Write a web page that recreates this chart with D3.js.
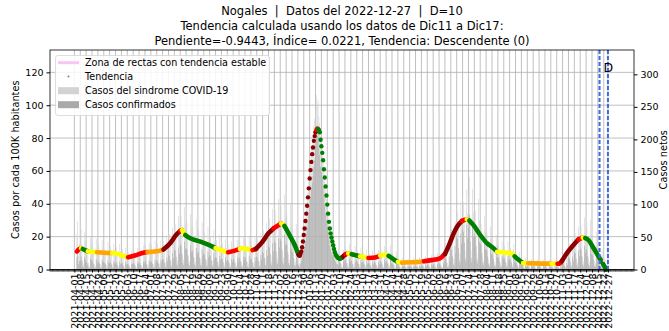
<!DOCTYPE html>
<html>
<head>
<meta charset="utf-8">
<script src="https://cdn.jsdelivr.net/npm/d3@7"></script>
<style>
  body { margin: 0; background: #fff; }
  text { font-family: "DejaVu Sans", sans-serif; fill: #000; white-space: pre; }
</style>
</head>
<body>
<svg id="chart" width="669" height="331"></svg>
<script>
// ---- Textos ----
const titulo = [
  "Nogales  |  Datos del 2022-12-27  |  D=10",
  "Tendencia calculada usando los datos de Dic11 a Dic17:",
  "Pendiente=-0.9443, Índice= 0.0221, Tendencia: Descendente (0)"
];
const etiquetaY = "Casos por cada 100K habitantes";
const etiquetaY2 = "Casos netos";
const leyenda = ["Zona de rectas con tendencia estable", "Tendencia", "Casos del sindrome COVID-19", "Casos confirmados"];

// ---- Ejes ----
const ticksY = [0, 20, 40, 60, 80, 100, 120];
const ticksY2 = [0, 50, 100, 150, 200, 250, 300];
const primerTick = "2021-04-01";
const ultimoTick = "2022-12-27";
const fechaFinCalculo = "2022-12-17";   // Dic17
const fechaDatos = "2022-12-27";
const inicioEje = "2021-03-03";
const finEje = "2023-01-27";

// ---- Casos diarios (casos netos), una fila por semana desde 2021-04-01 ----
const inicioBarras = "2021-04-01";
const casosSindrome = [
  0,0,0,55,74,21,40,  40,62,35,15,9,58,45,  38,30,22,10,6,52,41,  44,33,25,8,5,47,29,
  35,40,27,9,6,45,32,  38,31,29,7,5,42,30,  33,36,24,8,4,40,31,  30,35,22,6,5,39,28,
  28,31,20,7,4,33,25,  25,27,18,5,3,29,24,  27,30,21,6,4,33,26,  31,34,22,7,5,37,28,
  36,38,25,8,6,41,30,  39,37,27,9,6,44,31,  41,39,28,10,7,45,33,  46,44,30,12,8,52,38,
  57,55,38,15,10,64,45,  72,70,48,19,13,82,58,  86,83,57,22,15,96,70,  76,72,50,20,13,85,60,
  69,66,45,18,12,77,54,  64,61,42,17,11,72,50,  59,56,38,15,10,66,46,  54,51,35,14,9,61,42,
  47,45,31,12,8,53,37,  43,40,28,11,7,47,33,  39,37,26,10,7,44,30,  41,39,27,11,7,46,32,
  46,43,30,12,8,51,36,  47,44,31,12,8,52,37,  44,42,29,11,8,49,35,  50,47,33,13,9,56,39,
  65,61,43,17,11,72,51,  83,79,55,22,14,93,65,  96,91,64,25,17,108,76,  102,97,68,27,18,115,80,
  89,84,59,23,15,100,70,  63,60,42,16,11,70,49,  18,14,10,20,31,45,58,  55,64,80,95,108,120,135,
  150,168,185,192,205,220,232,  245,268,255,260,235,225,205,  196,184,170,152,138,122,108,  96,84,70,58,50,44,38,
  35,30,25,22,18,16,14,  28,24,20,8,5,30,22,  35,33,24,9,6,39,27,  32,30,22,8,5,36,25,
  30,29,21,8,5,34,24,  28,26,19,7,5,31,22,  26,25,18,7,4,29,21,  27,25,18,7,4,30,21,
  32,30,22,8,5,36,25,  33,31,22,9,6,37,26,  25,24,17,7,4,28,20,  17,15,11,4,3,18,13,
  16,15,10,4,3,17,12,  16,15,11,4,3,18,12,  17,16,11,4,3,19,13,  18,17,12,5,3,20,14,
  20,19,13,5,3,22,16,  22,21,15,6,4,25,17,  25,24,17,7,4,28,20,  40,38,27,10,7,45,31,
  66,62,44,17,11,74,52,  94,89,62,25,16,105,74,  110,104,73,29,19,123,86,  112,142,75,30,19,124,88,
  96,91,64,25,17,108,75,  74,70,49,19,13,82,58,  59,56,39,15,10,66,46,  48,45,32,12,8,53,37,
  39,37,26,10,7,44,31,  38,36,25,10,7,43,30,  35,33,23,9,6,39,27,  24,23,16,6,4,27,19,
  16,15,11,4,3,18,12,  14,13,9,4,2,16,11,  14,13,9,3,2,15,10,  13,13,9,3,2,15,10,
  13,12,9,3,2,15,10,  13,12,9,3,2,14,10,  13,13,9,3,2,15,10,  23,22,15,6,4,26,18,
  43,40,28,11,7,48,33,  59,56,39,15,10,66,46,  71,67,47,18,12,80,56,  69,65,46,18,12,77,54,
  52,49,34,13,9,58,41,  28,26,18,7,5,31,22,  9,7,5,2,1,3
];
const casosConfirmados = [
  0,0,0,18,25,8,13,  14,20,12,5,3,19,15,  12,10,7,3,2,17,14,  15,11,8,3,2,16,10,
  11,13,9,3,2,15,11,  12,10,9,2,2,14,10,  10,12,8,3,1,13,10,  9,11,7,2,2,12,9,
  9,10,6,2,1,11,8,  8,9,6,2,1,9,8,  9,10,7,2,1,11,8,  10,11,7,2,2,12,9,
  12,13,8,3,2,14,10,  13,12,9,3,2,15,10,  14,13,9,3,2,15,11,  16,15,10,4,3,18,13,
  22,21,14,6,4,25,17,  30,29,20,8,5,34,24,  38,37,25,10,7,43,31,  33,31,22,9,6,37,26,
  30,28,19,8,5,33,23,  27,26,18,7,5,31,21,  25,23,16,6,4,28,19,  22,21,14,6,4,25,17,
  19,18,12,5,3,21,15,  17,16,11,4,3,19,13,  15,14,10,4,3,17,12,  16,15,10,4,3,18,12,
  18,17,12,5,3,20,14,  19,18,12,5,3,21,15,  17,16,11,4,3,19,13,  20,19,13,5,4,22,16,
  27,25,18,7,5,30,21,  36,34,24,9,6,40,28,  43,41,29,11,8,48,34,  47,44,31,12,8,53,37,
  40,38,27,10,7,45,31,  27,26,18,7,5,30,21,  8,6,4,9,14,21,27,  28,34,44,55,64,73,84,
  98,112,126,133,144,158,168,  190,212,205,208,186,176,158,  150,140,128,112,100,87,76,  66,57,46,37,31,26,22,
  21,18,14,12,9,8,7,  13,11,9,3,2,14,10,  15,14,10,4,2,17,12,  14,13,9,3,2,15,10,
  13,12,9,3,2,14,10,  11,11,8,3,2,13,9,  10,10,7,3,2,12,8,  11,10,7,3,2,12,8,
  13,12,9,3,2,15,10,  13,12,9,3,2,15,10,  9,9,6,2,1,10,7,  6,5,4,1,1,6,4,
  5,5,3,1,1,6,4,  5,5,4,1,1,6,4,  6,5,4,1,1,6,4,  6,6,4,2,1,7,5,
  7,7,5,2,1,8,6,  8,8,5,2,1,9,6,  10,9,6,3,2,11,8,  18,17,12,4,3,20,14,
  32,30,21,8,5,36,25,  50,47,33,13,8,56,39,  62,58,41,16,11,69,48,  64,84,43,17,11,71,50,
  54,51,36,14,9,60,42,  40,38,26,10,7,44,31,  31,29,20,8,5,34,24,  24,22,16,6,4,26,18,
  19,18,13,5,3,21,15,  18,17,12,5,3,20,14,  16,15,11,4,3,18,12,  10,10,7,3,2,11,8,
  6,6,4,2,1,7,5,  5,5,3,1,1,6,4,  5,5,3,1,1,5,4,  5,4,3,1,1,5,3,
  5,4,3,1,1,5,3,  4,4,3,1,1,5,3,  5,4,3,1,1,5,4,  9,9,6,2,2,10,7,
  18,17,12,5,3,20,14,  26,25,17,7,4,29,20,  32,30,21,8,5,36,25,  31,29,21,8,5,35,24,
  23,22,15,6,4,26,18,  12,11,8,3,2,13,9,  4,3,2,1,0,1
];

// ---- Tendencia (casos por 100K): [fecha, valor, clase] ----
// clases: dr = ascendente fuerte, r = ascendente, o = estable alta, y = estable, g = descendente
const tendenciaAntes = [
  ["2021-04-04",11,"r"],["2021-04-07",12.5,"r"],["2021-04-09",13,"y"],["2021-04-11",12.5,"g"],
  ["2021-04-15",11.5,"g"],["2021-04-17",11,"y"],["2021-04-28",10.5,"o"],["2021-05-07",10.2,"o"],
  ["2021-05-16",10,"y"],["2021-05-23",9.5,"y"],["2021-05-31",8,"y"],["2021-06-04",7.5,"r"],
  ["2021-06-12",8.5,"r"],["2021-06-21",10,"r"],["2021-06-27",10.6,"o"],["2021-07-06",11,"o"],
  ["2021-07-12",11.5,"o"],["2021-07-16",12.2,"dr"],["2021-07-24",16,"dr"],["2021-07-31",21,"dr"],
  ["2021-08-05",23.5,"r"],["2021-08-07",24,"y"],["2021-08-11",21,"g"],["2021-08-17",19,"g"],
  ["2021-08-29",17,"g"],["2021-09-10",14.5,"g"],["2021-09-16",13,"y"],["2021-09-24",11.5,"y"],
  ["2021-10-01",10.5,"r"],["2021-10-09",11.5,"r"],["2021-10-15",12.6,"y"],["2021-10-18",12.9,"y"],
  ["2021-10-24",12.4,"y"],["2021-10-30",11.8,"r"],["2021-11-03",12.5,"dr"],["2021-11-11",17,"dr"],
  ["2021-11-18",22,"dr"],["2021-11-24",25,"r"],["2021-11-30",27,"r"],["2021-12-03",28,"y"],
  ["2021-12-07",26.5,"g"],["2021-12-14",20,"g"],["2021-12-20",14,"g"],["2021-12-23",10,"g"],
  ["2021-12-24",9,"dr"],["2021-12-25",8.5,"dr"]
];
// Ola de enero 2022, un punto por día
const tendenciaPico = [
  ["2021-12-25",8.5,"dr"],["2021-12-26",9.5,"dr"],["2021-12-27",11,"dr"],["2021-12-28",13.5,"dr"],
  ["2021-12-29",17,"dr"],["2021-12-30",21,"dr"],["2021-12-31",25,"dr"],["2022-01-01",29.5,"dr"],
  ["2022-01-02",34,"dr"],["2022-01-03",38.8,"dr"],["2022-01-04",43.9,"dr"],["2022-01-05",49.4,"dr"],
  ["2022-01-06",55.4,"dr"],["2022-01-07",60.5,"dr"],["2022-01-08",65.5,"dr"],["2022-01-09",70.2,"dr"],
  ["2022-01-10",74.3,"dr"],["2022-01-11",78.3,"dr"],["2022-01-12",81.2,"dr"],["2022-01-13",83.5,"dr"],
  ["2022-01-14",85,"r"],["2022-01-15",85.8,"r"],["2022-01-16",85.6,"g"],["2022-01-17",85,"g"],
  ["2022-01-18",83.5,"g"],["2022-01-19",79,"g"],["2022-01-20",75,"g"],["2022-01-21",71,"g"],
  ["2022-01-22",66.5,"g"],["2022-01-23",61,"g"],["2022-01-24",56,"g"],["2022-01-25",50.5,"g"],
  ["2022-01-26",45,"g"],["2022-01-27",39.5,"g"],["2022-01-28",34,"g"],["2022-01-29",29,"g"],
  ["2022-01-30",25,"g"],["2022-01-31",22,"g"],["2022-02-01",19.5,"g"],["2022-02-02",17,"g"],
  ["2022-02-03",14.8,"g"],["2022-02-04",12.5,"g"],["2022-02-05",10.5,"g"],["2022-02-06",9,"g"],
  ["2022-02-07",8.2,"g"],["2022-02-08",7.5,"g"],["2022-02-09",7,"g"],["2022-02-10",6.8,"g"],
  ["2022-02-11",6.6,"g"]
];
const tendenciaDespues = [
  ["2022-02-11",6.6,"g"],["2022-02-14",7.5,"dr"],["2022-02-16",8.5,"dr"],["2022-02-18",9.3,"r"],
  ["2022-02-21",9.8,"y"],["2022-02-25",9.3,"g"],["2022-03-03",8.5,"g"],["2022-03-07",8,"y"],
  ["2022-03-12",7.5,"y"],["2022-03-17",7,"r"],["2022-03-25",7.3,"r"],["2022-03-31",8.5,"y"],
  ["2022-04-05",9,"y"],["2022-04-10",8.3,"g"],["2022-04-16",6.2,"g"],["2022-04-21",4.6,"y"],
  ["2022-04-26",4.2,"o"],["2022-05-06",4.4,"o"],["2022-05-14",4.6,"o"],["2022-05-22",5,"r"],
  ["2022-05-31",5.7,"r"],["2022-06-10",6.8,"r"],["2022-06-16",9.5,"dr"],["2022-06-21",15,"dr"],
  ["2022-06-26",21.5,"dr"],["2022-07-01",26.5,"dr"],["2022-07-06",29.5,"r"],["2022-07-10",30.3,"r"],
  ["2022-07-12",30.5,"y"],["2022-07-15",29.8,"g"],["2022-07-20",27,"g"],["2022-07-28",21,"g"],
  ["2022-08-05",16,"g"],["2022-08-13",12.9,"g"],["2022-08-17",10.8,"y"],["2022-08-26",10.3,"y"],
  ["2022-09-04",9.8,"y"],["2022-09-07",8,"g"],["2022-09-11",6.2,"g"],["2022-09-15",4.6,"g"],
  ["2022-09-17",3.9,"y"],["2022-09-23",3.8,"o"],["2022-10-09",3.6,"o"],["2022-10-21",3.5,"y"],
  ["2022-10-28",3.5,"r"],["2022-10-31",3.8,"r"],["2022-11-02",5,"dr"],["2022-11-08",9.8,"dr"],
  ["2022-11-16",14.9,"dr"],["2022-11-22",18.4,"r"],["2022-11-27",19.4,"y"],["2022-11-30",19.1,"g"],
  ["2022-12-04",17.8,"g"],["2022-12-10",12.9,"g"],["2022-12-16",7.8,"g"],["2022-12-22",2.7,"g"],
  ["2022-12-25",0,"g"]
];
// Zona de rectas con tendencia estable
const zonaEstable = [["2022-12-21",5.5],["2022-12-24",5.5]];

const colores = { dr: "#8b0000", r: "#ff0000", o: "#ffa500", y: "#ffff00", g: "#008000" };

// ---- Dibujo ----
const area = { left: 50, right: 634, top: 50, bottom: 269.5 };
const parse = d3.utcParse("%Y-%m-%d");
const fmt = d3.utcFormat("%Y-%m-%d");

const x = d3.scaleUtc().domain([parse(inicioEje), parse(finEje)]).range([area.left, area.right]);
const y = d3.scaleLinear().domain([0, 133.6]).range([area.bottom, area.top]);
const y2 = d3.scaleLinear().domain([0, 337.4]).range([area.bottom, area.top]);

const svg = d3.select("#chart");

// marcas semanales del eje X y la fecha de los datos
const ticksX = d3.utcDay.range(parse(primerTick), parse(ultimoTick), 1).filter((d, i) => i % 7 === 0);
ticksX.push(parse(ultimoTick));

// rejilla
const grid = svg.append("g").attr("stroke", "#b0b0b0").attr("stroke-width", 0.8);
grid.selectAll("line.v").data(ticksX).join("line")
  .attr("x1", d => x(d)).attr("x2", d => x(d)).attr("y1", area.top).attr("y2", area.bottom);
grid.selectAll("line.h").data(ticksY).join("line")
  .attr("x1", area.left).attr("x2", area.right).attr("y1", d => y(d)).attr("y2", d => y(d));

// barras diarias
const dia0 = parse(inicioBarras);
const anchoBarra = (x(d3.utcDay.offset(dia0, 1)) - x(dia0)) * 0.7;
function barras(valores, color) {
  svg.append("g").selectAll("rect").data(valores).join("rect")
    .attr("x", (d, i) => x(d3.utcDay.offset(dia0, i)) - anchoBarra / 2)
    .attr("width", anchoBarra)
    .attr("y", d => y2(d)).attr("height", d => y2(0) - y2(d))
    .attr("fill", color);
}
barras(casosSindrome, "#d3d3d3");
barras(casosConfirmados, "#a9a9a9");

// tendencia: línea coloreada por tramo
const gT = svg.append("g");
const linea = d3.line().x(d => x(parse(d[0]))).y(d => y(d[1])).curve(d3.curveMonotoneX);
function tramos(datos) {
  let i = 0;
  while (i < datos.length - 1) {
    let j = i;
    while (j + 1 < datos.length && datos[j + 1][2] === datos[i][2]) j++;
    const seg = datos.slice(i, Math.min(j + 2, datos.length));
    gT.append("path").attr("d", linea(seg)).attr("fill", "none")
      .attr("stroke", colores[datos[i][2]]).attr("stroke-width", 4.6).attr("stroke-linecap", "round");
    i = j + 1;
  }
}
tramos(tendenciaAntes);
tramos(tendenciaDespues);
gT.selectAll("circle").data(tendenciaPico).join("circle")
  .attr("cx", d => x(parse(d[0]))).attr("cy", d => y(d[1])).attr("r", 2.2)
  .attr("fill", d => colores[d[2]]);

// zona estable
svg.append("path").attr("d", d3.line().x(d => x(parse(d[0]))).y(d => y(d[1]))(zonaEstable))
  .attr("stroke", "#f7c6f2").attr("stroke-width", 3).attr("fill", "none");

// líneas verticales: fin del cálculo y fecha de los datos
svg.selectAll("line.ventana").data([fechaFinCalculo, fechaDatos]).join("line")
  .attr("x1", d => x(parse(d))).attr("x2", d => x(parse(d)))
  .attr("y1", area.top).attr("y2", area.bottom)
  .attr("stroke", "#4169e1").attr("stroke-width", 2).attr("stroke-dasharray", "4,2");
svg.append("text").attr("x", x(parse(fechaDatos)) - 4.5).attr("y", 71.7)
  .attr("font-size", 12.5).text("D");

// marco
svg.append("rect").attr("x", area.left).attr("y", area.top)
  .attr("width", area.right - area.left).attr("height", area.bottom - area.top)
  .attr("fill", "none").attr("stroke", "#000").attr("stroke-width", 0.8);

// marcas diarias (menores) a lo largo del eje X
const dias = d3.utcDay.range(parse(inicioEje), d3.utcDay.offset(parse(finEje), 1));
svg.append("g").attr("stroke", "#000").attr("stroke-width", 0.7)
  .selectAll("line").data(dias).join("line")
  .attr("x1", d => x(d)).attr("x2", d => x(d))
  .attr("y1", area.bottom).attr("y2", area.bottom + 2);

// eje X
const ax = svg.append("g").attr("transform", `translate(0,${area.bottom})`)
  .call(d3.axisBottom(x).tickValues(ticksX).tickSize(3).tickFormat(fmt));
ax.select(".domain").remove();
ax.selectAll("text").attr("font-size", 9.5).attr("text-anchor", "end")
  .attr("transform", "rotate(-90)").attr("x", -4).attr("y", 0).attr("dy", "0.33em");

// eje Y izquierdo
const ayl = svg.append("g").attr("transform", `translate(${area.left},0)`)
  .call(d3.axisLeft(y).tickValues(ticksY).tickSize(3.5).tickPadding(3));
ayl.select(".domain").remove();
ayl.selectAll("text").attr("font-size", 9.5);

// eje Y derecho
const ayr = svg.append("g").attr("transform", `translate(${area.right},0)`)
  .call(d3.axisRight(y2).tickValues(ticksY2).tickSize(3.5).tickPadding(3));
ayr.select(".domain").remove();
ayr.selectAll("text").attr("font-size", 9.5);

// etiquetas de ejes
svg.append("text").attr("transform", `translate(19,${(area.top + area.bottom) / 2}) rotate(-90)`)
  .attr("text-anchor", "middle").attr("font-size", 9.8).text(etiquetaY);
svg.append("text").attr("transform", `translate(666.5,${(area.top + area.bottom) / 2}) rotate(-90)`)
  .attr("text-anchor", "middle").attr("font-size", 9.8).text(etiquetaY2);

// título
svg.selectAll("text.titulo").data(titulo).join("text")
  .attr("x", (area.left + area.right) / 2).attr("y", (d, i) => 15 + i * 15)
  .attr("text-anchor", "middle").attr("font-size", 11.5).text(d => d);

// leyenda
const lg = svg.append("g");
lg.append("rect").attr("x", 55.5).attr("y", 55.5).attr("width", 214).attr("height", 60)
  .attr("rx", 2.5).attr("fill", "#fff").attr("fill-opacity", 0.85).attr("stroke", "#d5d5d5").attr("stroke-width", 0.8);
const filas = [62.7, 76.5, 90.7, 104.7];
lg.append("line").attr("x1", 58).attr("x2", 79).attr("y1", filas[0]).attr("y2", filas[0])
  .attr("stroke", "#f7c6f2").attr("stroke-width", 3);
lg.append("circle").attr("cx", 68.5).attr("cy", filas[1]).attr("r", 1).attr("fill", "#808080");
lg.append("rect").attr("x", 58).attr("y", filas[2] - 3.5).attr("width", 21).attr("height", 7).attr("fill", "#d3d3d3");
lg.append("rect").attr("x", 58).attr("y", filas[3] - 3.5).attr("width", 21).attr("height", 7).attr("fill", "#a9a9a9");
lg.selectAll("text").data(leyenda).join("text")
  .attr("x", 85).attr("y", (d, i) => filas[i] + 3.4).attr("font-size", 9.6).text(d => d);
</script>
</body>
</html>
